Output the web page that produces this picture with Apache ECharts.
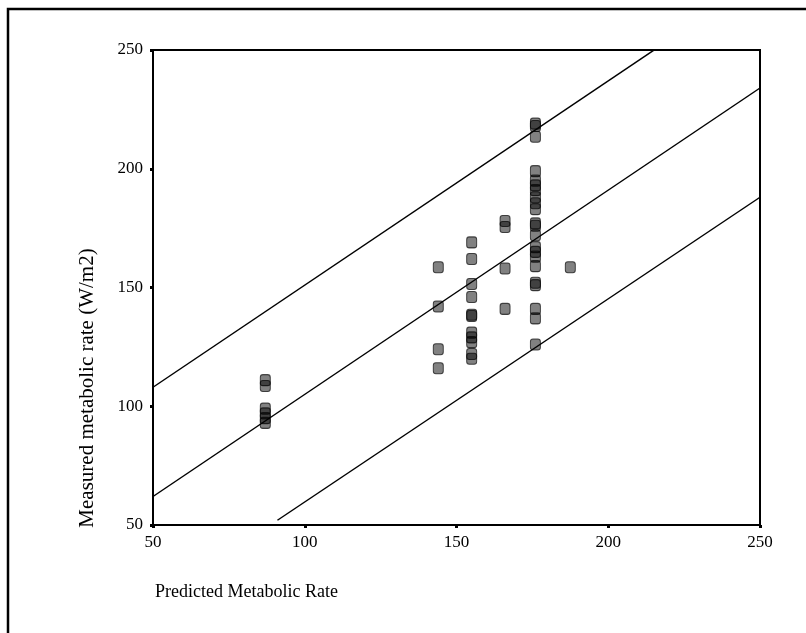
<!DOCTYPE html>
<html>
<head>
<meta charset="utf-8">
<script src="https://cdn.jsdelivr.net/npm/echarts@6/dist/echarts.min.js"></script>
<style>
  html, body { margin: 0; padding: 0; background: #fff; }
  #chart { width: 806px; height: 633px; }
</style>
</head>
<body>
<div id="chart"></div>
<script>
// predicted vs measured metabolic rate (W/m2)
var predicted = [
    87, 87, 87, 87, 87, 87,
    144, 144, 144, 144,
    155, 155, 155, 155, 155, 155, 155, 155, 155, 155, 155,
    166, 166, 166, 166,
    176, 176, 176, 176, 176, 176, 176, 176, 176, 176, 176,
    176, 176, 176, 176, 176, 176, 176, 176, 176, 176, 176,
    187.5
];
var measured = [
    111, 108.5, 99, 97, 95, 93,
    158.5, 142, 124, 116,
    169, 162, 151.5, 146, 138.5, 138, 131, 129, 127, 122, 120,
    178, 175.5, 158, 141,
    219, 218, 213.5, 199, 195, 193, 191, 188, 185.5, 183, 177,
    176, 172, 167, 165, 163, 159, 152, 151, 141, 137, 126,
    158.5
];

// fitted line and the two bands (start/end points)
var fitX = [50, 250];
var fitY = [62, 234];
var upperX = [50, 250];
var upperY = [108, 280];
var lowerX = [91, 250];
var lowerY = [52, 188];

var ticks = [50, 100, 150, 200, 250];

function pairs(xs, ys) {
    return xs.map(function(x, i) { return [x, ys[i]]; });
}

var chart = echarts.init(document.getElementById('chart'));

var serif = 'Liberation Serif';
var lineStyle = { color: '#000', width: 1.5 };

var axisCommon = {
    type: 'value',
    min: ticks[0],
    max: ticks[ticks.length - 1],
    interval: 50,
    axisLine: { show: true, lineStyle: { color: '#000', width: 2 } },
    axisTick: { show: true, length: 3, lineStyle: { color: '#000', width: 3 } },
    axisLabel: { color: '#000', fontFamily: serif, fontSize: 17 },
    splitLine: { show: false }
};

var option = {
    animation: false,
    backgroundColor: '#fff',
    grid: {
        left: 153,
        top: 50,
        right: 46,
        bottom: 108,
        show: true,
        borderColor: '#000',
        borderWidth: 2
    },
    xAxis: Object.assign({}, axisCommon, {
        axisLabel: Object.assign({}, axisCommon.axisLabel, { margin: 9 })
    }),
    yAxis: Object.assign({}, axisCommon, {
        axisLabel: Object.assign({}, axisCommon.axisLabel, { margin: 10 })
    }),
    graphic: [
        {
            type: 'rect',
            shape: { x: 8, y: 9, width: 900, height: 800 },
            style: { fill: 'none', stroke: '#000', lineWidth: 2.5 }
        },
        {
            type: 'text',
            x: 155,
            y: 592,
            style: {
                text: 'Predicted Metabolic Rate',
                fontFamily: serif,
                fontSize: 18,
                fill: '#000',
                textAlign: 'left',
                textVerticalAlign: 'middle'
            }
        },
        {
            type: 'text',
            x: 87,
            y: 388,
            rotation: Math.PI / 2,
            style: {
                text: 'Measured metabolic rate (W/m2)',
                fontFamily: serif,
                fontSize: 21,
                fill: '#000',
                textAlign: 'center',
                textVerticalAlign: 'middle'
            }
        }
    ],
    series: [
        {
            type: 'line',
            data: pairs(upperX, upperY),
            showSymbol: false,
            lineStyle: lineStyle
        },
        {
            type: 'line',
            data: pairs(fitX, fitY),
            showSymbol: false,
            lineStyle: lineStyle
        },
        {
            type: 'line',
            data: pairs(lowerX, lowerY),
            showSymbol: false,
            lineStyle: lineStyle
        },
        {
            type: 'scatter',
            data: pairs(predicted, measured),
            symbol: 'roundRect',
            symbolSize: [10, 11],
            itemStyle: {
                color: 'rgba(0,0,0,0.62)',
                borderColor: 'rgba(0,0,0,0.85)',
                borderWidth: 1
            },
            z: 5
        }
    ]
};

chart.setOption(option);

window.addEventListener('resize', function() {
    chart.resize();
});
</script>
</body>
</html>
